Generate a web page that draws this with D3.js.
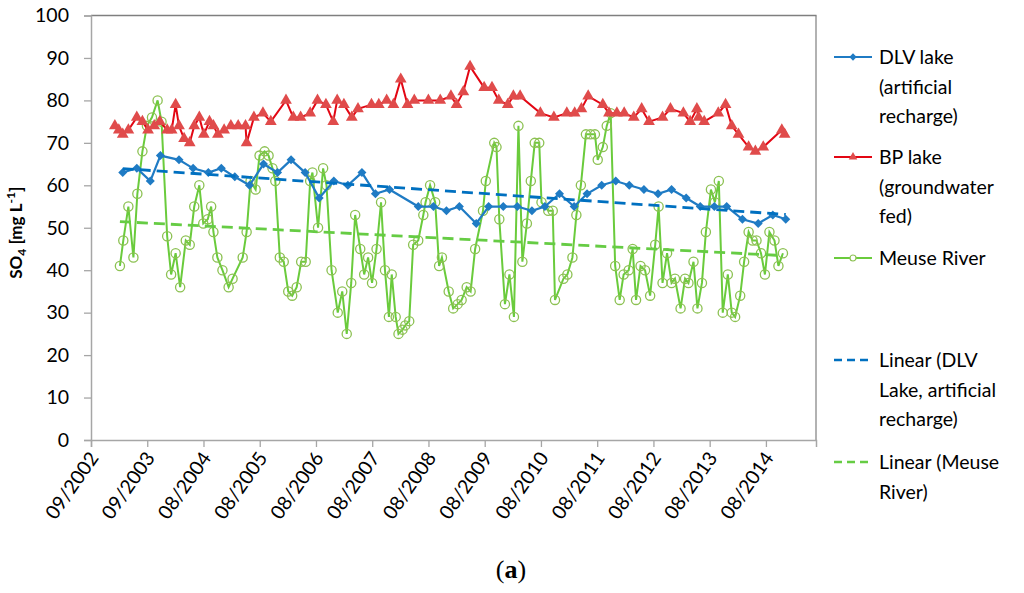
<!DOCTYPE html>
<html>
<head>
<meta charset="utf-8">
<script src="https://cdn.jsdelivr.net/npm/d3@7"></script>
<style>
  body { margin: 0; background: #fff; }
  text { font-family: Lato, "Open Sans", sans-serif; fill: #000; }
</style>
</head>
<body>
<div id="chart"></div>
<script>
// Sampling times as decimal years, SO4 in mg/L
const dlvTime = [2003.23, 2003.48, 2003.72, 2003.90, 2004.23, 2004.48, 2004.75, 2004.98, 2005.22, 2005.48,
  2005.73, 2005.98, 2006.22, 2006.47, 2006.72, 2006.98, 2007.23, 2007.48, 2007.72, 2007.97,
  2008.48, 2008.75, 2008.98, 2009.21, 2009.51, 2009.73, 2009.99, 2010.24, 2010.50, 2010.73,
  2010.99, 2011.25, 2011.48, 2011.74, 2011.99, 2012.23, 2012.49, 2012.74, 2012.98, 2013.24,
  2013.49, 2013.74, 2013.96, 2014.24, 2014.52, 2014.78, 2015.01];
const dlvValue = [63, 64, 61, 67, 66, 64, 63, 64, 62, 60,
  65, 63, 66, 63, 57, 61, 60, 63, 58, 59,
  55, 55, 54, 55, 51, 55, 55, 55, 54, 55,
  58, 55, 58, 60, 61, 60, 59, 58, 59, 57,
  55, 55, 55, 52, 51, 53, 52];

const bpTime = [2003.09, 2003.16, 2003.23, 2003.33, 2003.48, 2003.58, 2003.68, 2003.79, 2003.89, 2004.02,
  2004.10, 2004.17, 2004.23, 2004.32, 2004.42, 2004.50, 2004.59, 2004.67, 2004.77, 2004.84,
  2004.92, 2005.03, 2005.15, 2005.28, 2005.41, 2005.43, 2005.56, 2005.72, 2005.86, 2006.13,
  2006.26, 2006.39, 2006.56, 2006.69, 2006.84, 2006.97, 2007.04, 2007.16, 2007.30, 2007.41,
  2007.65, 2007.78, 2007.92, 2008.04, 2008.17, 2008.29, 2008.41, 2008.66, 2008.87, 2009.06,
  2009.16, 2009.28, 2009.40, 2009.65, 2009.79, 2009.91, 2010.07, 2010.17, 2010.29, 2010.65,
  2010.89, 2011.12, 2011.26, 2011.38, 2011.50, 2011.76, 2011.87, 2012.01, 2012.14, 2012.31,
  2012.45, 2012.58, 2012.82, 2012.96, 2013.19, 2013.31, 2013.43, 2013.46, 2013.56, 2013.81,
  2013.94, 2014.05, 2014.17, 2014.35, 2014.47, 2014.61, 2014.94, 2014.99];
const bpValue = [74, 73, 72, 73, 76, 75, 73, 74, 75, 73,
  73, 79, 74, 71, 70, 74, 76, 72, 75, 74,
  72, 73, 74, 74, 74, 70, 76, 77, 75, 80,
  76, 76, 77, 80, 79, 75, 80, 79, 76, 78,
  79, 79, 80, 79, 85, 79, 80, 80, 80, 81,
  79, 82, 88, 83, 83, 80, 79, 81, 81, 77,
  76, 77, 77, 78, 81, 79, 77, 77, 77, 76,
  78, 75, 76, 78, 77, 75, 78, 76, 75, 77,
  79, 74, 72, 69, 68, 69, 73, 72];

const meuseTime = [2003.18, 2003.24, 2003.33, 2003.42, 2003.49, 2003.58, 2003.66, 2003.75, 2003.85, 2003.92,
  2004.02, 2004.09, 2004.17, 2004.25, 2004.35, 2004.42, 2004.50, 2004.59, 2004.66, 2004.74,
  2004.80, 2004.84, 2004.91, 2005.00, 2005.11, 2005.18, 2005.36, 2005.43, 2005.50, 2005.59,
  2005.66, 2005.75, 2005.82, 2005.89, 2005.94, 2006.02, 2006.09, 2006.17, 2006.24, 2006.32,
  2006.40, 2006.48, 2006.56, 2006.60, 2006.70, 2006.79, 2006.85, 2006.94, 2007.05, 2007.13,
  2007.21, 2007.29, 2007.36, 2007.45, 2007.52, 2007.59, 2007.66, 2007.74, 2007.82, 2007.89,
  2007.96, 2008.01, 2008.08, 2008.13, 2008.20, 2008.25, 2008.32, 2008.39, 2008.48, 2008.57,
  2008.61, 2008.69, 2008.78, 2008.85, 2008.90, 2009.02, 2009.10, 2009.18, 2009.25, 2009.34,
  2009.41, 2009.49, 2009.63, 2009.68, 2009.83, 2009.87, 2009.92, 2010.02, 2010.10, 2010.18,
  2010.26, 2010.33, 2010.41, 2010.48, 2010.55, 2010.63, 2010.67, 2010.79, 2010.87, 2010.91,
  2011.06, 2011.13, 2011.22, 2011.29, 2011.37, 2011.46, 2011.54, 2011.62, 2011.67, 2011.76,
  2011.83, 2011.90, 2011.98, 2012.06, 2012.13, 2012.22, 2012.29, 2012.35, 2012.43, 2012.51,
  2012.60, 2012.69, 2012.75, 2012.82, 2012.90, 2012.98, 2013.04, 2013.14, 2013.22, 2013.28,
  2013.37, 2013.44, 2013.52, 2013.59, 2013.68, 2013.75, 2013.82, 2013.89, 2013.98, 2014.05,
  2014.11, 2014.20, 2014.27, 2014.35, 2014.42, 2014.49, 2014.57, 2014.64, 2014.72, 2014.81,
  2014.88, 2014.96];
const meuseValue = [41, 47, 55, 43, 58, 68, 74, 76, 80, 75,
  48, 39, 44, 36, 47, 46, 55, 60, 51, 52,
  55, 49, 43, 40, 36, 38, 43, 49, 61, 59,
  67, 68, 67, 64, 61, 43, 42, 35, 34, 36,
  42, 42, 61, 63, 50, 64, 60, 40, 30, 35,
  25, 37, 53, 45, 39, 43, 37, 45, 56, 40,
  29, 39, 29, 25, 26, 27, 28, 46, 47, 53,
  56, 60, 56, 41, 43, 35, 31, 32, 33, 36,
  35, 45, 54, 61, 70, 69, 52, 32, 39, 29,
  74, 42, 51, 61, 70, 70, 56, 54, 54, 33,
  38, 39, 43, 53, 60, 72, 72, 72, 66, 69,
  74, 77, 41, 33, 39, 40, 45, 33, 41, 40,
  34, 46, 55, 37, 44, 37, 38, 31, 38, 37,
  42, 31, 37, 49, 59, 56, 61, 30, 39, 30,
  29, 34, 42, 49, 47, 47, 44, 39, 49, 47,
  41, 44];

const yTicks = [0, 10, 20, 30, 40, 50, 60, 70, 80, 90, 100];

const W = 1024, H = 593;
const margin = { left: 91, right: 208, top: 15.5, bottom: 153 };

const toDate = t => {
  const y = Math.floor(t);
  const s = Date.UTC(y, 0, 1), e = Date.UTC(y + 1, 0, 1);
  return new Date(s + (t - y) * (e - s));
};

const axisStart = new Date(Date.UTC(2002, 8, 1));
const xTicks = d3.range(13).map(i => d3.utcDay.offset(axisStart, 365 * i));
const axisEnd = d3.utcDay.offset(axisStart, 4705);

const svg = d3.select("#chart").append("svg")
  .attr("width", W).attr("height", H)
  .attr("viewBox", [0, 0, W, H]);

const x = d3.scaleUtc().domain([axisStart, axisEnd]).range([margin.left, W - margin.right]);
const y = d3.scaleLinear().domain([0, 100]).range([H - margin.bottom, margin.top]);

const x0 = margin.left, x1 = W - margin.right, y0 = H - margin.bottom, y1 = margin.top;

// plot area border (top + right)
svg.append("line").attr("x1", x0).attr("x2", x1 + 0.5).attr("y1", y1).attr("y2", y1)
  .attr("stroke", "#7f7f7f").attr("stroke-width", 1.6);
svg.append("line").attr("x1", x1).attr("x2", x1).attr("y1", y1).attr("y2", y0)
  .attr("stroke", "#7f7f7f").attr("stroke-width", 1.2);

// Y axis
const yAxis = svg.append("g").attr("transform", `translate(${x0},0)`)
  .call(d3.axisLeft(y).tickValues(yTicks).tickSize(7).tickPadding(15));
yAxis.select(".domain").attr("stroke", "#a6a6a6").attr("stroke-width", 1.5);
yAxis.selectAll(".tick line").attr("stroke", "#a6a6a6").attr("stroke-width", 1.3);
yAxis.selectAll("text").style("font-size", "19.5px").attr("fill", "#000");

// X axis
const xAxis = svg.append("g").attr("transform", `translate(0,${y0})`)
  .call(d3.axisBottom(x).tickValues(xTicks).tickSize(7).tickFormat(d3.utcFormat("%m/%Y")));
xAxis.select(".domain").attr("stroke", "#a6a6a6").attr("stroke-width", 1.5);
xAxis.selectAll(".tick line").attr("stroke", "#a6a6a6").attr("stroke-width", 1.3);
xAxis.selectAll("text")
  .style("font-size", "19.5px")
  .attr("text-anchor", "end")
  .attr("dy", null)
  .attr("y", 0)
  .attr("transform", "translate(8,18) rotate(-55)");

// Y title
const yt = svg.append("text")
  .attr("transform", `translate(22,${(y0 + y1) / 2 + 5}) rotate(-90)`)
  .attr("text-anchor", "middle")
  .style("font-size", "17px").style("font-weight", "bold");
yt.append("tspan").text("SO");
yt.append("tspan").text("4").attr("dy", 4).style("font-size", "12px");
yt.append("tspan").text(" [mg L").attr("dy", -4);
yt.append("tspan").text("-1").attr("dy", -7).style("font-size", "12px");
yt.append("tspan").text("]").attr("dy", 7);

// trend lines (least squares, like a spreadsheet linear trendline)
function trend(times, values) {
  const xs = times.map(t => +toDate(t));
  const mx = d3.mean(xs), my = d3.mean(values);
  const b = d3.sum(xs, (v, i) => (v - mx) * (values[i] - my)) / d3.sum(xs, v => (v - mx) * (v - mx));
  const a = my - b * mx;
  const ends = [d3.min(xs), d3.max(xs)];
  return ends.map(v => [new Date(v), a + b * v]);
}

const line = d3.line().x(d => x(d[0])).y(d => y(d[1]));
const pts = (ts, vs) => ts.map((t, i) => [toDate(t), vs[i]]);

const blue = "#1f7bc4", red = "#e30613", redMark = "#e04b4b", green = "#6acb3c", greenMark = "#8cc152";

// Meuse series
const meuse = pts(meuseTime, meuseValue);
svg.append("path").datum(meuse).attr("d", line)
  .attr("fill", "none").attr("stroke", green).attr("stroke-width", 2);
svg.selectAll(".meuse").data(meuse).enter().append("circle")
  .attr("cx", d => x(d[0])).attr("cy", d => y(d[1])).attr("r", 4.6)
  .attr("fill", "none").attr("stroke", greenMark).attr("stroke-width", 1.3);

// BP lake series
const bp = pts(bpTime, bpValue);
svg.append("path").datum(bp).attr("d", line)
  .attr("fill", "none").attr("stroke", red).attr("stroke-width", 2);
const tri = d3.symbol().type(d3.symbolTriangle).size(60);
svg.selectAll(".bp").data(bp).enter().append("path")
  .attr("d", tri).attr("transform", d => `translate(${x(d[0])},${y(d[1])})`)
  .attr("fill", redMark);

// DLV lake series
const dlv = pts(dlvTime, dlvValue);
svg.append("path").datum(dlv).attr("d", line)
  .attr("fill", "none").attr("stroke", blue).attr("stroke-width", 2.2);
const dia = d3.symbol().type(d3.symbolDiamond2).size(52);
svg.selectAll(".dlv").data(dlv).enter().append("path")
  .attr("d", dia).attr("transform", d => `translate(${x(d[0])},${y(d[1])})`)
  .attr("fill", blue);

// trends
svg.append("path").datum(trend(dlvTime, dlvValue)).attr("d", line)
  .attr("stroke", "#0070c0").attr("stroke-width", 2.8).attr("stroke-dasharray", "11,6").attr("fill", "none");
svg.append("path").datum(trend(meuseTime, meuseValue)).attr("d", line)
  .attr("stroke", "#66cc44").attr("stroke-width", 2.8).attr("stroke-dasharray", "11,6").attr("fill", "none");

// Legend
const legend = [
  { lines: ["DLV lake", "(artificial", "recharge)"], y: 57, color: blue, mark: "diamond" },
  { lines: ["BP lake", "(groundwater", "fed)"], y: 157, color: red, mark: "triangle" },
  { lines: ["Meuse River"], y: 258, color: green, mark: "circle" },
  { lines: ["Linear (DLV", "Lake, artificial", "recharge)"], y: 360, color: "#0070c0", mark: "dash" },
  { lines: ["Linear (Meuse", "River)"], y: 462, color: "#66cc44", mark: "dash" }
];
const lg = svg.append("g");
legend.forEach(item => {
  const g = lg.append("g").attr("transform", `translate(834,${item.y})`);
  g.append("line").attr("x1", 0).attr("x2", 38).attr("y1", 0).attr("y2", 0)
    .attr("stroke", item.color).attr("stroke-width", item.mark === "dash" ? 2.6 : 1.8)
    .attr("stroke-dasharray", item.mark === "dash" ? "8,5" : null);
  if (item.mark === "diamond") {
    g.append("path").attr("d", d3.symbol().type(d3.symbolDiamond2).size(34))
      .attr("transform", "translate(19,0)").attr("fill", item.color);
  } else if (item.mark === "triangle") {
    g.append("path").attr("d", d3.symbol().type(d3.symbolTriangle).size(32))
      .attr("transform", "translate(19,0)").attr("fill", redMark);
  } else if (item.mark === "circle") {
    g.append("circle").attr("cx", 19).attr("cy", 0).attr("r", 3)
      .attr("fill", "#fff").attr("stroke", greenMark).attr("stroke-width", 1.2);
  }
  const t = g.append("text").attr("x", 45).attr("y", 7).style("font-size", "19.5px");
  item.lines.forEach((s, i) => {
    t.append("tspan").attr("x", 45).attr("dy", i === 0 ? 0 : 29.5).text(s);
  });
});

// panel caption
const cap = svg.append("text").attr("x", 511).attr("y", 578).attr("text-anchor", "middle")
  .style("font-family", "'Liberation Serif', 'DejaVu Serif', serif").style("font-size", "26px");
cap.append("tspan").text("(");
cap.append("tspan").text("a").style("font-weight", "bold");
cap.append("tspan").text(")");
</script>
</body>
</html>
